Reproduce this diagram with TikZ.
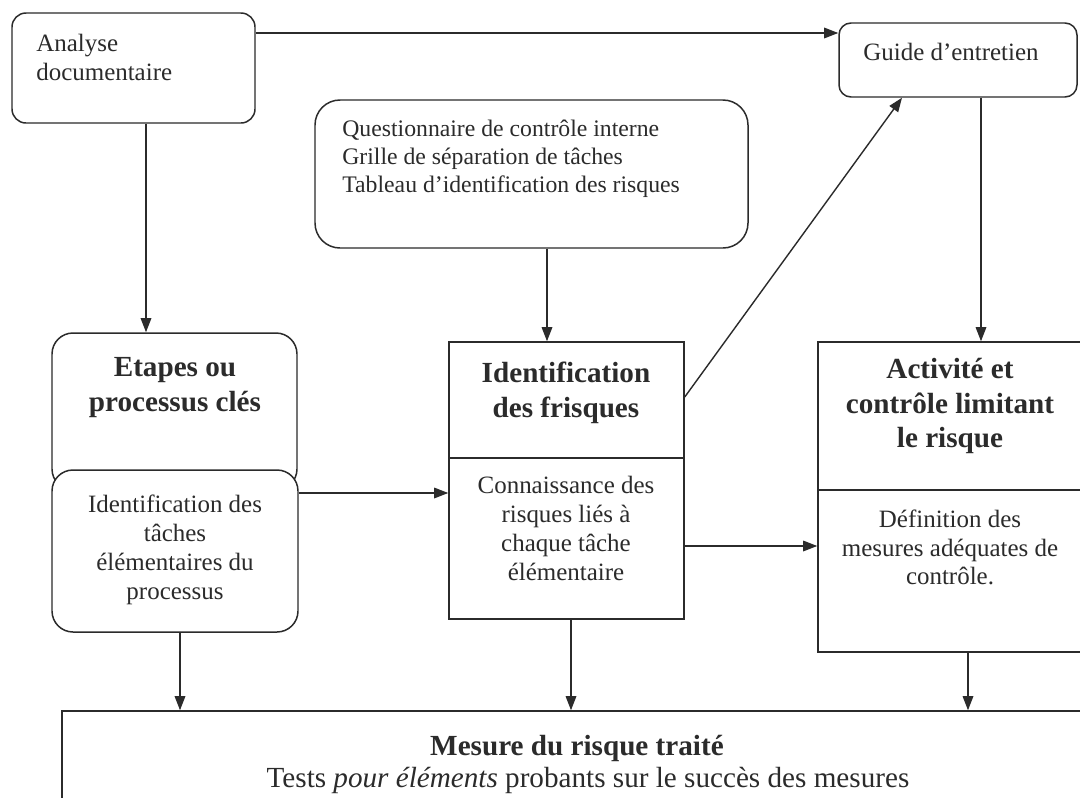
\documentclass[tikz,border=0pt]{standalone}
\usepackage{fontspec}
\setmainfont{Liberation Serif}
\usetikzlibrary{fit,arrows.meta}
\definecolor{ink}{HTML}{2B2B2B}
\begin{document}
\begin{tikzpicture}[x=0.02cm,y=-0.02cm,
  box/.style={draw=ink, line width=0.85pt, inner sep=0pt, fill=white},
  rbox/.style={box, rounded corners=#1},
  arr/.style={draw=ink, line width=0.8pt, -{Triangle[length=8pt,width=6pt]}},
  ln/.style={draw=ink, line width=0.8pt},
  txt/.style={text=ink, inner sep=0pt, font=\fontsize{14.2pt}{16.4pt}\selectfont},
  btxt/.style={text=ink, inner sep=0pt, font=\fontsize{16.6pt}{19.8pt}\selectfont\bfseries},
]
\useasboundingbox (0,0) rectangle (1080,798);
\clip (0,0) rectangle (1080,798);
\fill[white] (0,0) rectangle (1080,798);
% boxes
\node[rbox=0.28cm, fit={(12,13)(255,123)}] (ana) {};
\node[rbox=0.24cm, fit={(839,23)(1077,97)}] (gui) {};
\node[rbox=0.5cm, fit={(315,100)(748,248)}] (que) {};
\node[rbox=0.42cm, fit={(52,333)(297,490)}] (eta) {};
\node[rbox=0.42cm, fit={(52,470)(298,632)}] (tac) {};
\node[box, fit={(449,342)(684,619)}] (ide) {};
\node[box, fit={(818,342)(1100,652)}] (act) {};
\node[box, fit={(62,711)(1100,830)}] (mes) {};
\draw[ln] (ide.west |- 0,458) -- (ide.east |- 0,458);
\draw[ln] (act.west |- 0,490) -- (act.east |- 0,490);
% texts
\node[txt, anchor=west, align=left] (tana) at (36,57.5) {Analyse\\documentaire};
\node[txt] (tgui) at (951,52) {Guide d’entretien};
\node[txt, anchor=west, align=left, font=\fontsize{13.5pt}{16pt}\selectfont] (tque) at (342,159) {Questionnaire de contrôle interne\\Grille de séparation de tâches\\Tableau d’identification des risques};
\node[btxt, align=center] (teta) at (175,387.5) {Etapes ou\\processus clés};
\node[txt, align=center] (ttac) at (175,550) {Identification des\\tâches\\élémentaires du\\processus};
\node[btxt, align=center] (tide) at (566,392.5) {Identification\\des frisques};
\node[txt, align=center] (tcon) at (566,528.5) {Connaissance des\\risques liés à\\chaque tâche\\élémentaire};
\node[btxt, align=center] (tact) at (950,406) {Activité et\\contrôle limitant\\le risque};
\node[txt, align=center] (tdef) at (950,547.5) {Définition des\\mesures adéquates de\\contrôle.};
\node[btxt] (tmes) at (577,748) {Mesure du risque traité};
\node[txt, font=\fontsize{16.6pt}{19pt}\selectfont] (ttes) at (588,780) {Tests \textit{pour éléments} probants sur le succès des mesures};
% connectors
\draw[arr] (ana.east |- 0,33) -- (gui.west |- 0,33);
\draw[arr] (ana.south -| 146,0) -- (eta.north -| 146,0);
\draw[arr] (que.south -| 547,0) -- (ide.north -| 547,0);
\draw[arr] (tac.east |- 0,493) -- (ide.west |- 0,493);
\draw[arr] (ide.east |- 0,397) -- (gui.south -| 902,0);
\draw[arr] (gui.south -| 981,0) -- (act.north -| 981,0);
\draw[arr] (ide.east |- 0,546) -- (act.west |- 0,546);
\draw[arr] (tac.south -| 180,0) -- (mes.north -| 180,0);
\draw[arr] (ide.south -| 571,0) -- (mes.north -| 571,0);
\draw[arr] (act.south -| 968,0) -- (mes.north -| 968,0);
\end{tikzpicture}
\end{document}
